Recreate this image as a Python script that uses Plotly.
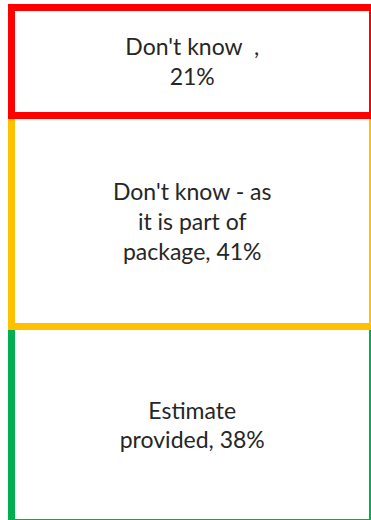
import plotly.graph_objects as go

# stacked from the bottom up
categories = ["Estimate provided", "Don't know - as it is part of package", "Don't know"]
values = [38, 41, 21]
text_labels = ["Estimate<br>provided, 38%",
               "Don't know - as<br>it is part of<br>package, 41%",
               "Don't know\u00a0 ,<br>21%"]
colors = ["#00B050", "#FFC000", "#FF0000"]

fig = go.Figure()
for name, v, t, c in zip(categories, values, text_labels, colors):
    fig.add_trace(go.Bar(
        x=[0], y=[v], width=1, name=name,
        text=[t], textposition="inside", insidetextanchor="middle", textangle=0,
        textfont=dict(family="Lato", size=23, color="#262626"),
        marker=dict(color="white", line=dict(color=c, width=7)),
    ))

fig.update_layout(
    width=371, height=520,
    barmode="stack", showlegend=False,
    margin=dict(l=0, r=0, t=0, b=0),
    paper_bgcolor="white", plot_bgcolor="white",
    xaxis=dict(visible=False, range=[-0.5318, 0.4945]),
    yaxis=dict(visible=False, range=[0.485, 101.358]),
)
# drop the browser's default page margin so the figure sits at 0,0
fig.write_html("out.html", config={"displayModeBar": False},
               post_script="document.body.style.margin='0';document.body.style.overflow='hidden';")
